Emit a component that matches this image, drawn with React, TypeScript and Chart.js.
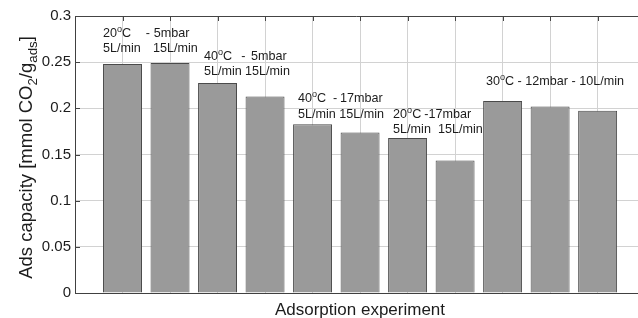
import React, { useEffect, useRef } from "react";
import { Chart, registerables } from "chart.js";

Chart.register(...registerables);

// ---- data ----
const experimentPositions = [1, 2, 3, 4, 5, 6, 7, 8, 9, 10, 11];
const adsCapacity = [0.248, 0.249, 0.2275, 0.2127, 0.1828, 0.1737, 0.168, 0.1434, 0.208, 0.2019, 0.1975];
const yTickValues = [0, 0.05, 0.1, 0.15, 0.2, 0.25, 0.3];
const yTickLabels = ["0", "0.05", "0.1", "0.15", "0.2", "0.25", "0.3"];
const xTitle = "Adsorption experiment";
const yTitle = "Ads capacity [mmol CO_{2}/g_{ads}]";

// annotation labels (rich text: ^{} superscript, _{} subscript), anchored at data coords (left, baseline)
const annotationTexts = [
  "20^{o}C", "-", "5mbar", "5L/min", "15L/min",
  "40^{o}C", "-", "5mbar", "5L/min", "15L/min",
  "40^{o}C", "-", "17mbar", "5L/min", "15L/min",
  "20^{o}C", "-17mbar", "5L/min", "15L/min",
  "30^{o}C - 12mbar - 10L/min",
];
const annotationX = [
  0.59, 1.49, 1.66, 0.59, 1.64,
  2.716, 3.5, 3.705, 2.716, 3.58,
  4.695, 5.43, 5.58, 4.695, 5.56,
  6.695, 7.35, 6.695, 7.64,
  8.65,
];
const annotationY = [
  0.2774, 0.2774, 0.2774, 0.2611, 0.2611,
  0.2524, 0.2524, 0.2524, 0.2362, 0.2362,
  0.2069, 0.2069, 0.2069, 0.1896, 0.1896,
  0.1896, 0.1896, 0.1733, 0.1733,
  0.2253,
];

const FONT = "'Liberation Sans', Arial, Helvetica, sans-serif";
const TEXT_COLOR = "#1c1c1c";

type Seg = { t: string; mode: "n" | "sup" | "sub" };
function parseRich(s: string): Seg[] {
  const out: Seg[] = [];
  const re = /(\^|_)\{([^}]*)\}/g;
  let last = 0;
  let m: RegExpExecArray | null;
  while ((m = re.exec(s))) {
    if (m.index > last) out.push({ t: s.slice(last, m.index), mode: "n" });
    out.push({ t: m[2], mode: m[1] === "^" ? "sup" : "sub" });
    last = re.lastIndex;
  }
  if (last < s.length) out.push({ t: s.slice(last), mode: "n" });
  return out;
}
function richWidth(ctx: CanvasRenderingContext2D, s: string, size: number) {
  let w = 0;
  for (const seg of parseRich(s)) {
    const fs = seg.mode === "n" ? size : size * 0.72;
    ctx.font = `${fs}px ${FONT}`;
    w += ctx.measureText(seg.t).width;
  }
  return w;
}
function drawRich(ctx: CanvasRenderingContext2D, s: string, x: number, y: number, size: number) {
  let cx = x;
  ctx.textBaseline = "alphabetic";
  ctx.textAlign = "left";
  for (const seg of parseRich(s)) {
    const fs = seg.mode === "n" ? size : size * 0.72;
    const dy = seg.mode === "sup" ? -size * 0.42 : seg.mode === "sub" ? size * 0.28 : 0;
    ctx.font = `${fs}px ${FONT}`;
    ctx.fillText(seg.t, cx, y + dy);
    cx += ctx.measureText(seg.t).width;
  }
}

const framePlugin = {
  id: "frameAndText",
  beforeDatasetsDraw(chart: any) {
    const { ctx, chartArea, scales } = chart;
    ctx.save();
    ctx.strokeStyle = "#444";
    ctx.lineWidth = 1;
    ctx.beginPath();
    ctx.moveTo(chartArea.left, Math.round(chartArea.top) + 0.5);
    ctx.lineTo(chartArea.right, Math.round(chartArea.top) + 0.5);
    for (const v of experimentPositions) {
      const px = Math.round(scales.x.getPixelForValue(v)) + 0.5;
      ctx.moveTo(px, chartArea.top);
      ctx.lineTo(px, chartArea.top + 5);
    }
    for (const v of yTickValues) {
      const py = Math.round(scales.y.getPixelForValue(v)) + 0.5;
      ctx.moveTo(chartArea.left, py);
      ctx.lineTo(chartArea.left + 5, py);
    }
    ctx.stroke();
    ctx.restore();
  },
  afterDraw(chart: any) {
    const { ctx, chartArea, scales } = chart;
    ctx.save();
    ctx.fillStyle = TEXT_COLOR;
    annotationTexts.forEach((t, i) => {
      const px = scales.x.getPixelForValue(annotationX[i]);
      const py = scales.y.getPixelForValue(annotationY[i]);
      drawRich(ctx, t, px, py, 12.6);
    });
    const xs = 17;
    const xw = richWidth(ctx, xTitle, xs);
    drawRich(ctx, xTitle, 360 - xw / 2, 315, xs);
    const ys = 18.5;
    const yw = richWidth(ctx, yTitle, ys);
    const cy = (chartArea.top + chartArea.bottom) / 2 + 3;
    ctx.translate(32, cy);
    ctx.rotate(-Math.PI / 2);
    drawRich(ctx, yTitle, -yw / 2, 0, ys);
    ctx.restore();
  },
};

export default function App() {
  const ref = useRef<HTMLCanvasElement | null>(null);
  useEffect(() => {
    if (!ref.current) return;
    const chart = new Chart(ref.current, {
      type: "bar",
      data: {
        datasets: [
          {
            data: experimentPositions.map((x, i) => ({ x, y: adsCapacity[i] })),
            backgroundColor: "#9a9a9a",
            borderColor: "#4a4a4a",
            borderWidth: 1,
            borderSkipped: "bottom",
            barPercentage: 0.82,
            categoryPercentage: 1,
          } as any,
        ],
      },
      options: {
        animation: false,
        responsive: true,
        maintainAspectRatio: false,
        layout: { padding: { top: 16, left: 0, right: 0, bottom: 0 } },
        plugins: { legend: { display: false }, tooltip: { enabled: false } },
        scales: {
          x: {
            type: "linear",
            offset: false,
            min: 0,
            max: 11.85,
            afterBuildTicks: (s: any) => {
              s.ticks = experimentPositions.map((v) => ({ value: v }));
            },
            afterFit: (s: any) => {
              s.height = 25;
            },
            ticks: { display: false },
            grid: { color: "#d2d2d2", drawTicks: false, lineWidth: 1, offset: false },
            border: { color: "#404040", width: 1 },
          },
          y: {
            min: 0,
            max: 0.3,
            afterBuildTicks: (s: any) => {
              s.ticks = yTickValues.map((v) => ({ value: v }));
            },
            afterFit: (s: any) => {
              s.width = 75;
            },
            ticks: {
              padding: 4,
              color: TEXT_COLOR,
              font: { family: FONT, size: 15 },
              callback: (v: any) => {
                const i = yTickValues.findIndex((t) => Math.abs(t - Number(v)) < 1e-9);
                return i >= 0 ? yTickLabels[i] : "";
              },
            },
            grid: { drawTicks: false, color: "#d2d2d2" },
            border: { color: "#404040", width: 1 },
          },
        },
      },
      plugins: [framePlugin],
    });
    return () => chart.destroy();
  }, []);
  return (
    <div style={{ position: "absolute", left: 0, top: 0, width: 638, height: 318, background: "#fff" }}>
      <canvas ref={ref} />
    </div>
  );
}
